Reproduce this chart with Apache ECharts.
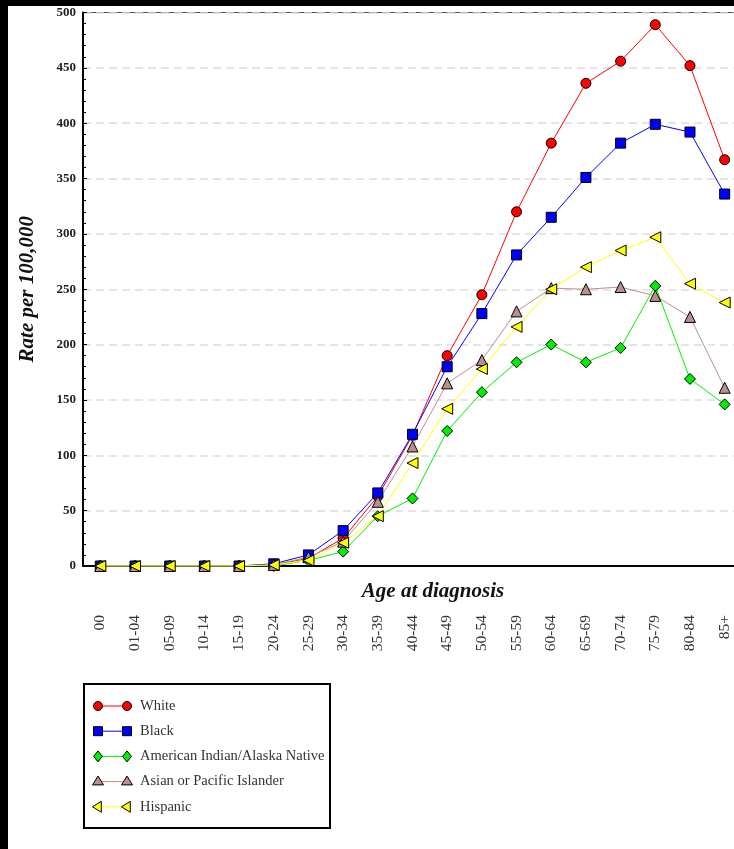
<!DOCTYPE html>
<html>
<head>
<meta charset="utf-8">
<script src="https://cdn.jsdelivr.net/npm/echarts@6/dist/echarts.min.js"></script>
<style>
  html, body { margin: 0; padding: 0; background: #000; width: 734px; height: 849px; overflow: hidden; }
  #chart { position: absolute; left: 8px; top: 6px; width: 744px; height: 843px; background: #fff; }
</style>
</head>
<body>
<div id="chart"></div>
<script>
// Age groups at diagnosis
const ageGroups = ['00', '01-04', '05-09', '10-14', '15-19', '20-24', '25-29', '30-34', '35-39',
  '40-44', '45-49', '50-54', '55-59', '60-64', '65-69', '70-74', '75-79', '80-84', '85+'];

// Rate per 100,000 by race/ethnicity
const white    = [0, 0, 0, 0, 0, 1, 7, 25, 63, 118, 190, 245, 320, 382, 436, 456, 489, 452, 367];
const black    = [0, 0, 0, 0, 0, 2, 10, 32, 66, 119, 180, 228, 281, 315, 351, 382, 399, 392, 336];
const aian     = [0, 0, 0, 0, 0, 0, 5, 13, 45, 61, 122, 157, 184, 200, 184, 197, 253, 169, 146];
const asianPI  = [0, 0, 0, 0, 0, 1, 8, 22, 58, 108, 165, 186, 230, 251, 250, 252, 244, 225, 161];
const hispanic = [0, 0, 0, 0, 0, 1, 5, 21, 45, 93, 142, 178, 216, 250, 270, 285, 297, 255, 238];

const yTicks = { min: 0, max: 500, interval: 50 };

const serif = '"Liberation Serif", "DejaVu Serif", serif';

const seriesDefs = [
  { name: 'White', data: white, color: '#ff0000', symbol: 'circle', size: 10, rotate: 0 },
  { name: 'Black', data: black, color: '#0000ff', symbol: 'rect', size: 10, rotate: 0 },
  { name: 'American Indian/Alaska Native', data: aian, color: '#00ee00', symbol: 'diamond', size: 11, rotate: 0 },
  { name: 'Asian or Pacific Islander', data: asianPI, color: '#bc8f8f', symbol: 'triangle', size: 11, rotate: 0 },
  { name: 'Hispanic', data: hispanic, color: '#ffff00', symbol: 'triangle', size: 11, rotate: 90 }
];

const chart = echarts.init(document.getElementById('chart'));

// Legend box drawn with graphic shapes: line with a marker at each end
function marker(def, cx, cy) {
  const style = { fill: def.color, stroke: '#000', lineWidth: 1 };
  const r = def.size / 2;
  if (def.symbol === 'circle') {
    return { type: 'circle', shape: { cx: cx, cy: cy, r: r - 0.5 }, style: style };
  }
  if (def.symbol === 'rect') {
    return { type: 'rect', shape: { x: cx - r + 0.5, y: cy - r + 0.5, width: 2 * r - 1, height: 2 * r - 1 }, style: style };
  }
  if (def.symbol === 'diamond') {
    return { type: 'polygon', shape: { points: [[cx, cy - r], [cx + r * 0.8, cy], [cx, cy + r], [cx - r * 0.8, cy]] }, style: style };
  }
  if (def.rotate === 90) {
    return { type: 'polygon', shape: { points: [[cx - r, cy], [cx + r * 0.6, cy - r], [cx + r * 0.6, cy + r]] }, style: style };
  }
  return { type: 'polygon', shape: { points: [[cx, cy - r], [cx + r, cy + r * 0.6], [cx - r, cy + r * 0.6]] }, style: style };
}

const legendChildren = [
  { type: 'rect', shape: { x: 0, y: 0, width: 246, height: 144 }, style: { fill: '#fff', stroke: '#000', lineWidth: 2 } }
];
seriesDefs.forEach(function (def, i) {
  const y = 22 + i * 25.2;
  legendChildren.push({ type: 'line', shape: { x1: 14, y1: y, x2: 43, y2: y }, style: { stroke: def.color, lineWidth: 1 } });
  legendChildren.push(marker(def, 14, y));
  legendChildren.push(marker(def, 43, y));
  legendChildren.push({
    type: 'text', x: 56, y: y,
    style: { text: def.name, fill: '#333', font: '14.5px ' + serif, verticalAlign: 'middle', align: 'left' }
  });
});

const option = {
  backgroundColor: '#fff',
  animation: false,
  title: {
    text: 'Age at diagnosis',
    left: 420, top: 570,
    textAlign: 'center',
    textStyle: { fontFamily: serif, fontSize: 21, fontWeight: 'bold', fontStyle: 'italic', color: '#111' }
  },
  grid: {
    left: 75, top: 5, width: 659, height: 555,
    show: true, borderColor: '#555', borderWidth: 1, backgroundColor: 'transparent'
  },
  xAxis: {
    type: 'category',
    data: ageGroups,
    boundaryGap: true,
    axisLine: { lineStyle: { color: '#000', width: 2 } },
    axisTick: { alignWithLabel: true, length: 5, lineStyle: { color: '#000' } },
    axisLabel: { rotate: 90, margin: 49, fontFamily: serif, fontSize: 15.5, color: '#333' },
    splitLine: { show: false }
  },
  yAxis: {
    type: 'value',
    min: yTicks.min, max: yTicks.max, interval: yTicks.interval,
    name: 'Rate per 100,000',
    nameLocation: 'middle',
    nameGap: 45,
    nameTextStyle: { fontFamily: serif, fontSize: 21, fontWeight: 'bold', fontStyle: 'italic', color: '#111' },
    axisLine: { show: true, lineStyle: { color: '#000', width: 2 } },
    axisTick: { show: true, inside: true, length: 4, lineStyle: { color: '#000' } },
    minorTick: { show: true, splitNumber: 5, length: 3, lineStyle: { color: '#000' } },
    axisLabel: { margin: 7, fontFamily: serif, fontSize: 13, fontWeight: 'bold', color: '#222' },
    splitLine: { show: true, lineStyle: { color: '#dddddd', width: 1.5, type: [8, 5] } }
  },
  series: seriesDefs.map(function (def) {
    return {
      name: def.name,
      type: 'line',
      data: def.data,
      symbol: def.symbol,
      symbolSize: def.size,
      symbolRotate: def.rotate,
      showAllSymbol: true,
      lineStyle: { color: def.color, width: 1 },
      itemStyle: { color: def.color, borderColor: '#000', borderWidth: 1 },
      emphasis: { disabled: true }
    };
  }),
  graphic: [
    { type: 'group', left: 75, top: 677, children: legendChildren }
  ]
};

chart.setOption(option);
</script>
</body>
</html>
